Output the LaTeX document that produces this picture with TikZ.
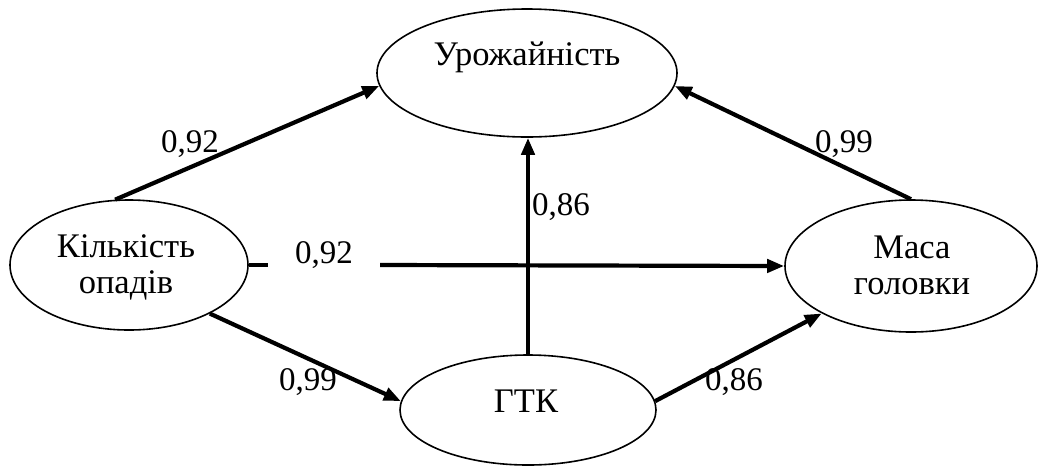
\documentclass[tikz,border=0pt]{standalone}
\usepackage{fontspec}
\setmainfont{Liberation Serif}
\usetikzlibrary{shapes.geometric,arrows.meta}

\tikzset{
  oval/.style={ellipse, draw=black, line width=1.6pt, inner sep=0pt},
  txt/.style={inner sep=0pt, font=\fontsize{34.5}{36}\selectfont, text=black},
  coef/.style={inner sep=0pt, font=\fontsize{33}{36}\selectfont, text=black, anchor=base},
  link/.style={line width=4.2pt, draw=black},
  arr/.style={link, -{Triangle[length=17pt,width=13pt]}}
}

\begin{document}
\begin{tikzpicture}[x=1pt,y=-1pt]
\useasboundingbox (0,0) rectangle (1038,467);

% factors as ovals
\node[oval, minimum width=300pt, minimum height=128pt] (U) at (527,73) {};
\node[oval, minimum width=238pt, minimum height=130pt] (K) at (129,265) {};
\node[oval, minimum width=252pt, minimum height=132pt] (M) at (911,266) {};
\node[oval, minimum width=256pt, minimum height=110pt] (G) at (528,410) {};

% their captions
\node[txt, anchor=base] (Ut) at (527,65) {Урожайність};
\node[txt, align=center] (Kt) at (126,267) {Кількість\\опадів};
\node[txt, align=center] (Mt) at (912,265) {Маса\\головки};
\node[txt, anchor=base] (Gt) at (526,412) {ГТК};

% path coefficients
\node[coef] (c1) at (190,152) {0,92};
\node[coef] (c2) at (844,152) {0,99};
\node[coef] (c3) at (561,215) {0,86};
\node[coef, minimum width=112pt] (c4) at (324,263) {0,92};
\node[coef] (c5) at (308,390) {0,99};
\node[coef] (c6) at (734,390) {0,86};

% connections
\draw[arr] (K.102) -- (U.185);
\draw[arr] (M.north) -- (U.-5);
\draw[arr] (G.north) -- (G.north |- U.south);
\draw[link] (K.east) -- (K.east -| c4.west);
\draw[arr] (K.east -| c4.east) -- (M.west);
\draw[arr] (K.-31) -- (G.176);
\draw[arr] (G.4) -- (M.208);
\end{tikzpicture}
\end{document}
